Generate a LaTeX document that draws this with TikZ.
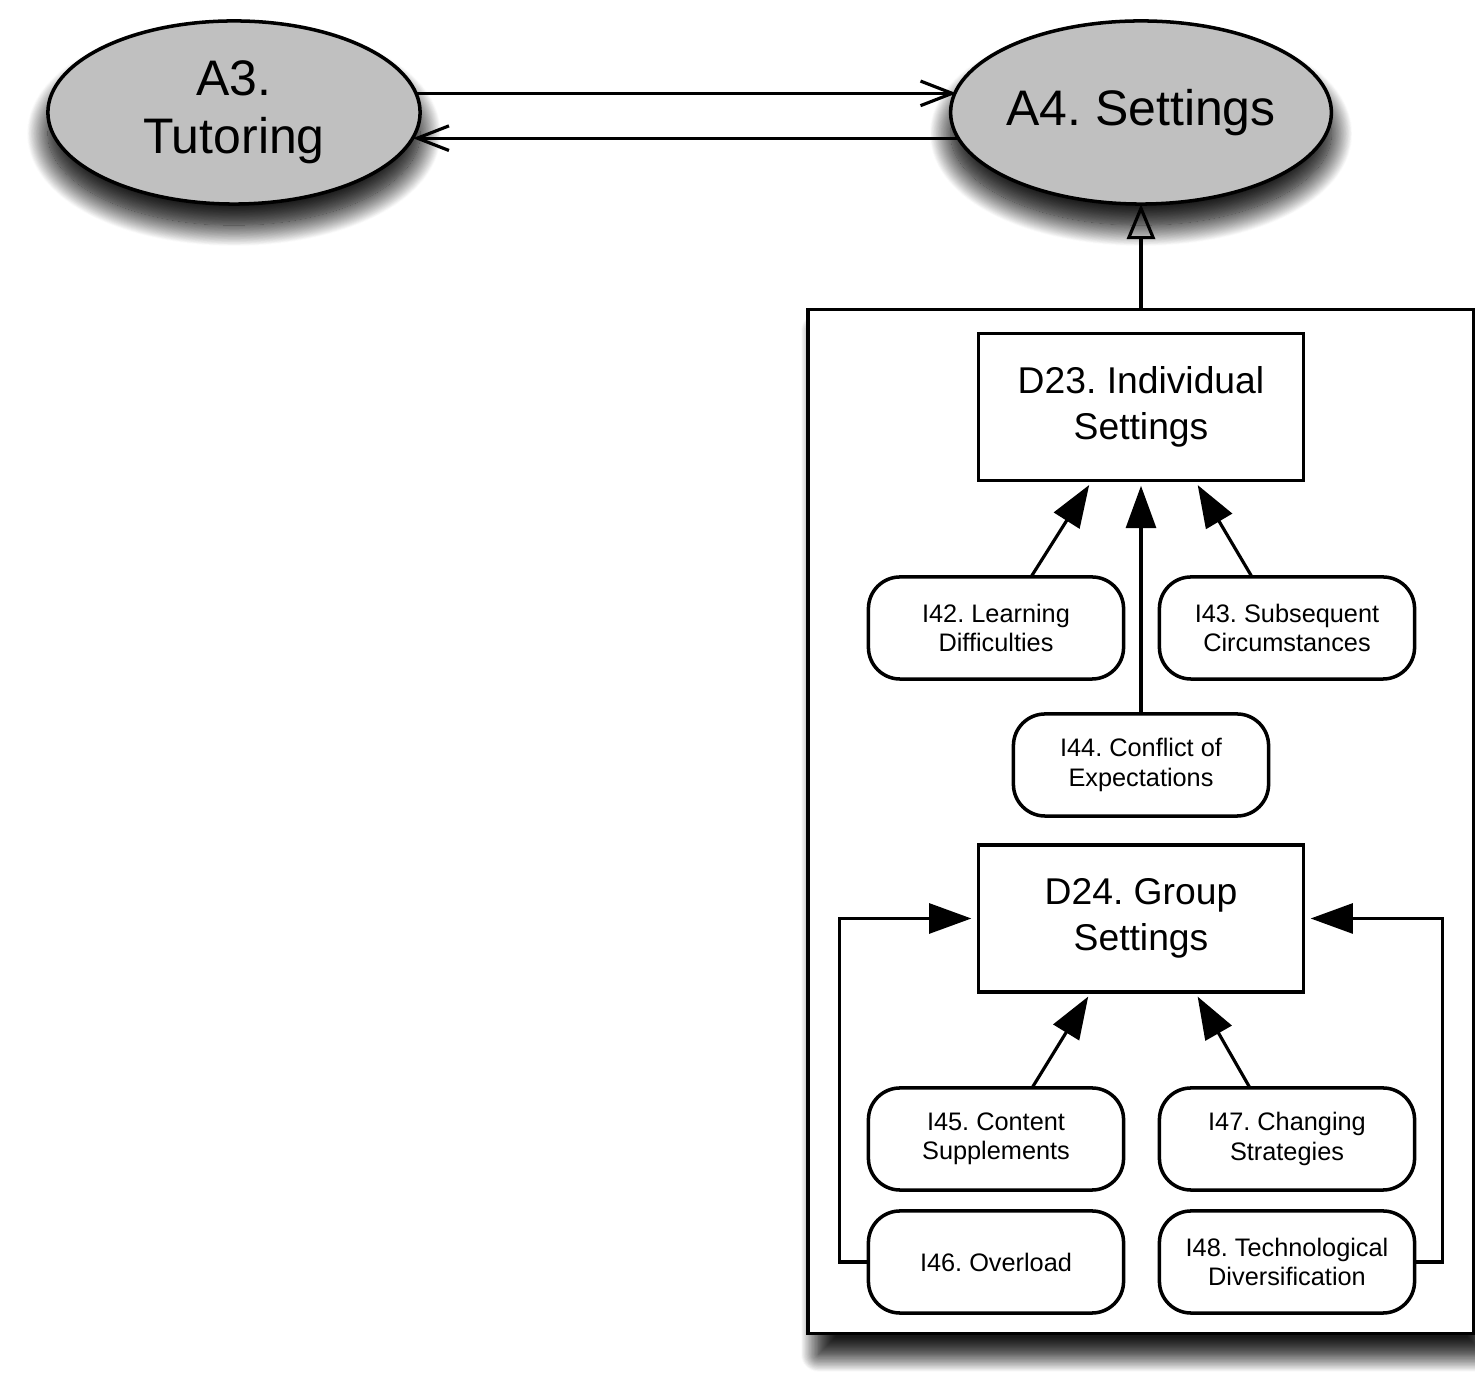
\documentclass[tikz,border=0pt]{standalone}
\usepackage{fontspec}
\setmainfont{Liberation Sans}
\usetikzlibrary{arrows.meta,shapes.geometric,shadows.blur,calc}
\definecolor{ellgray}{RGB}{192,192,192}

\begin{document}
\frenchspacing
\begin{tikzpicture}[x=0.01cm, y=-0.01cm,
	halo/.style={blur shadow={shadow xshift=0pt, shadow yshift=-4pt, shadow scale=1.1, shadow blur radius=2pt,
		shadow blur steps=10, shadow opacity=6}},
	framehalo/.style={blur shadow={shadow xshift=-2pt, shadow yshift=0pt, shadow scale=1.0, shadow blur radius=8pt,
		shadow blur steps=20, shadow opacity=10}},
	dropshade/.style={blur shadow={shadow xshift=0pt, shadow yshift=-6pt, shadow blur radius=6pt,
		shadow blur steps=30, shadow opacity=70}},
	framedrop/.style={blur shadow={shadow xshift=3pt, shadow yshift=-6pt, shadow blur radius=5pt,
		shadow blur steps=30, shadow opacity=70}},
	area/.style={ellipse, draw, line width=1pt, fill=ellgray, minimum width=3.72cm, minimum height=1.83cm,
		inner sep=0pt, outer sep=0pt, align=center, font=\fontsize{14.2}{16.6}\selectfont, halo, dropshade},
	dimbox/.style={rectangle, draw, line width=1pt, fill=white, minimum width=3.25cm, minimum height=1.47cm,
		inner sep=0pt, outer sep=0pt, align=center, font=\fontsize{10.6}{13}\selectfont},
	issue/.style={rectangle, rounded corners=9pt, draw, line width=1pt, fill=white, minimum width=2.55cm,
		minimum height=1.02cm, inner sep=0pt, outer sep=0pt, align=center, font=\fontsize{7.2}{8.3}\selectfont},
	openarr/.style={line width=0.9pt, -{Straight Barb[length=9pt, width=7pt, line width=0.9pt]}},
	inheritarr/.style={line width=0.9pt, -{Triangle[open, length=10pt, width=8pt, line width=0.9pt]}},
	filledarr/.style={line width=0.9pt, -{Triangle[length=12pt, width=8.5pt]}, shorten >=1.5pt}]

	\useasboundingbox (0,0) rectangle (1475,1374);

	% Grouping frame
	\node[rectangle, draw, line width=1pt, fill=white, minimum width=6.66cm, minimum height=10.23cm,
		outer sep=0pt, framehalo, framedrop] (frame) at (1141,821.5) {};

	% Areas
	\node[area] (A3) at (234,112.5) {A3.\\Tutoring};
	\node[area] (A4) at (1141,112.5) {A4. Settings};

	% Dimensions
	\node[dimbox] (D23) at (1141,407) {D23. Individual\\Settings};
	\node[dimbox] (D24) at (1141,918.5) {D24. Group\\Settings};

	% Issues of D23
	\node[issue] (I42) at (996,628) {I42. Learning\\Difficulties};
	\node[issue] (I43) at (1287,628) {I43. Subsequent\\Circumstances};
	\node[issue] (I44) at (1141,765) {I44. Conflict of\\Expectations};

	% Issues of D24
	\node[issue] (I45) at (996,1139) {I45. Content\\Supplements};
	\node[issue] (I47) at (1287,1139) {I47. Changing\\Strategies};
	\node[issue] (I46) at (996,1262) {I46. Overload};
	\node[issue] (I48) at (1287,1262) {I48. Technological\\Diversification};

	% Area links
	\draw[openarr] (A3.6.3) -- (A3.6.3 -| A4.173.7);
	\draw[openarr] (A4.188.5) -- (A4.188.5 -| A3.-8.5);
	\draw[inheritarr] (frame.north) -- (A4.south);

	% Issue links
	\draw[filledarr] ($(I42.north)+(35,0)$) -- ($(D23.south)+(-49,0)$);
	\draw[filledarr] ($(I43.north)+(-35,0)$) -- ($(D23.south)+(54,0)$);
	\draw[filledarr] (I44.north) -- (D23.south);
	\draw[filledarr] ($(I45.north)+(36,0)$) -- ($(D24.south)+(-50,0)$);
	\draw[filledarr] ($(I47.north)+(-37,0)$) -- ($(D24.south)+(54,0)$);
	\draw[filledarr, shorten >=2pt] (I46.west) -- ++(-29,0) |- (D24.west);
	\draw[filledarr, shorten >=2pt] (I48.east) -- ++(28,0) |- (D24.east);
\end{tikzpicture}
\end{document}
